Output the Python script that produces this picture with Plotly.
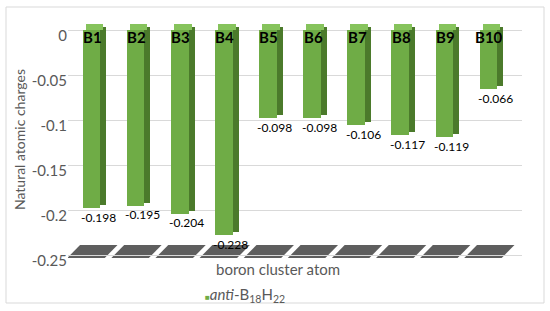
import plotly.graph_objects as go

categories = ["B1", "B2", "B3", "B4", "B5", "B6", "B7", "B8", "B9", "B10"]
charges = [-0.198, -0.195, -0.204, -0.228, -0.098, -0.098, -0.106, -0.117, -0.119, -0.066]
tick_vals = [0, -0.05, -0.1, -0.15, -0.2, -0.25]
tick_text = ["0", "-0.05", "-0.1", "-0.15", "-0.2", "-0.25"]
series_name = "<i>anti</i>-B<sub>18</sub>H<sub>22</sub>"

FRONT = "#6FAC46"
TOP = "#86C35C"
SIDE = "#4B7A2B"
GRAY = "#595959"
FONT = "Lato"

W, H = 550, 311
L, R, T, B = 68, 28, 15, 53
plot_w = W - L - R
plot_h = H - T - B
ppu = 900.0  # pixels per unit on y
y_top = (30 - T) / ppu
y_bot = -(H - B - 30) / ppu
depth = 6 / ppu

fig = go.Figure()

# side face (darker)
fig.add_trace(go.Bar(
    x=categories, y=charges, base=[depth / 2] * len(charges),
    width=0.136, offset=0.2, marker=dict(color=SIDE, line=dict(width=0)),
    showlegend=False, hoverinfo="skip"))
# top face (lighter)
fig.add_trace(go.Bar(
    x=categories, y=[depth] * len(charges), base=[0] * len(charges),
    width=0.4, offset=-0.132, marker=dict(color=TOP, line=dict(width=0)),
    showlegend=False, hoverinfo="skip"))
# front face
fig.add_trace(go.Bar(
    x=categories, y=charges, width=0.4, offset=-0.2,
    marker=dict(color=FRONT, line=dict(width=0)),
    name=series_name, showlegend=False))

shapes = []
# floor segments
n = len(categories)
fy0, fy1 = -(258 - 30) / ppu, -(245 - 30) / ppu
for i in range(n):
    b0, b1 = i - 0.55, i + 0.30
    s = 0.29
    path = f"M {b0} {fy0} L {b1} {fy0} L {b1 + s} {fy1} L {b0 + s} {fy1} Z"
    shapes.append(dict(type="path", xref="x", yref="y", path=path,
                       fillcolor="#5E5E5E", line=dict(width=0), layer="below"))
# outer border
shapes.append(dict(type="rect", xref="paper", yref="paper",
                   x0=(6 - L) / plot_w, x1=(544 - L) / plot_w,
                   y0=-(303 - (H - B)) / plot_h, y1=(H - B - 7) / plot_h,
                   line=dict(color="#D9D9D9", width=1), fillcolor="rgba(0,0,0,0)"))

annotations = []
for c in categories:
    annotations.append(dict(x=c, y=0, xref="x", yref="y", text=f"<b>{c}</b>",
                            showarrow=False, yshift=-7, xshift=1,
                            font=dict(family=FONT, size=15, color="black")))
for c, v in zip(categories, charges):
    annotations.append(dict(x=c, y=v, xref="x", yref="y", text=f"{v:.3f}",
                            showarrow=False, yshift=-9, xshift=7,
                            font=dict(family=FONT, size=12, color="black")))
# legend entry (symbol + series name)
annotations.append(dict(
    xref="paper", yref="paper", x=(203 - L) / plot_w, xanchor="left",
    y=-(295 - (H - B)) / plot_h, yanchor="middle", showarrow=False,
    text=f"<span style='color:{FRONT};font-size:8px'>■</span>{series_name}",
    font=dict(family=FONT, size=15, color=GRAY)))
# x axis title
annotations.append(dict(
    xref="paper", yref="paper", x=(278 - L) / plot_w, xanchor="center",
    y=-(269 - (H - B)) / plot_h, yanchor="middle", showarrow=False,
    text="boron cluster atom", font=dict(family=FONT, size=15, color=GRAY)))
# y axis title
annotations.append(dict(
    xref="paper", yref="paper", x=(19 - L) / plot_w, xanchor="center",
    y=(H - B - 140) / plot_h, yanchor="middle", showarrow=False, textangle=-90,
    text="Natural atomic charges", font=dict(family=FONT, size=14, color=GRAY)))

fig.update_layout(
    width=W, height=H,
    margin=dict(l=L, r=R, t=T, b=B, autoexpand=False),
    paper_bgcolor="white", plot_bgcolor="white",
    barmode="overlay", bargap=0,
    font=dict(family=FONT, color=GRAY),
    shapes=shapes, annotations=annotations,
    showlegend=False,
    xaxis=dict(type="category", range=[-0.533, 9.76], showticklabels=False,
               showgrid=False, zeroline=False, showline=False, ticks="",
               automargin=False),
    yaxis=dict(range=[y_bot, y_top], tickvals=tick_vals, ticktext=tick_text,
               showgrid=True, gridcolor="#D9D9D9", gridwidth=1, zeroline=False,
               showline=False, ticks="", ticklabelshift=6, automargin=False,
               tickfont=dict(family=FONT, size=15, color=GRAY)),
)

fig.write_html("out.html", config={"displayModeBar": False},
               post_script="document.body.style.margin='0';document.body.style.overflow='hidden';")
